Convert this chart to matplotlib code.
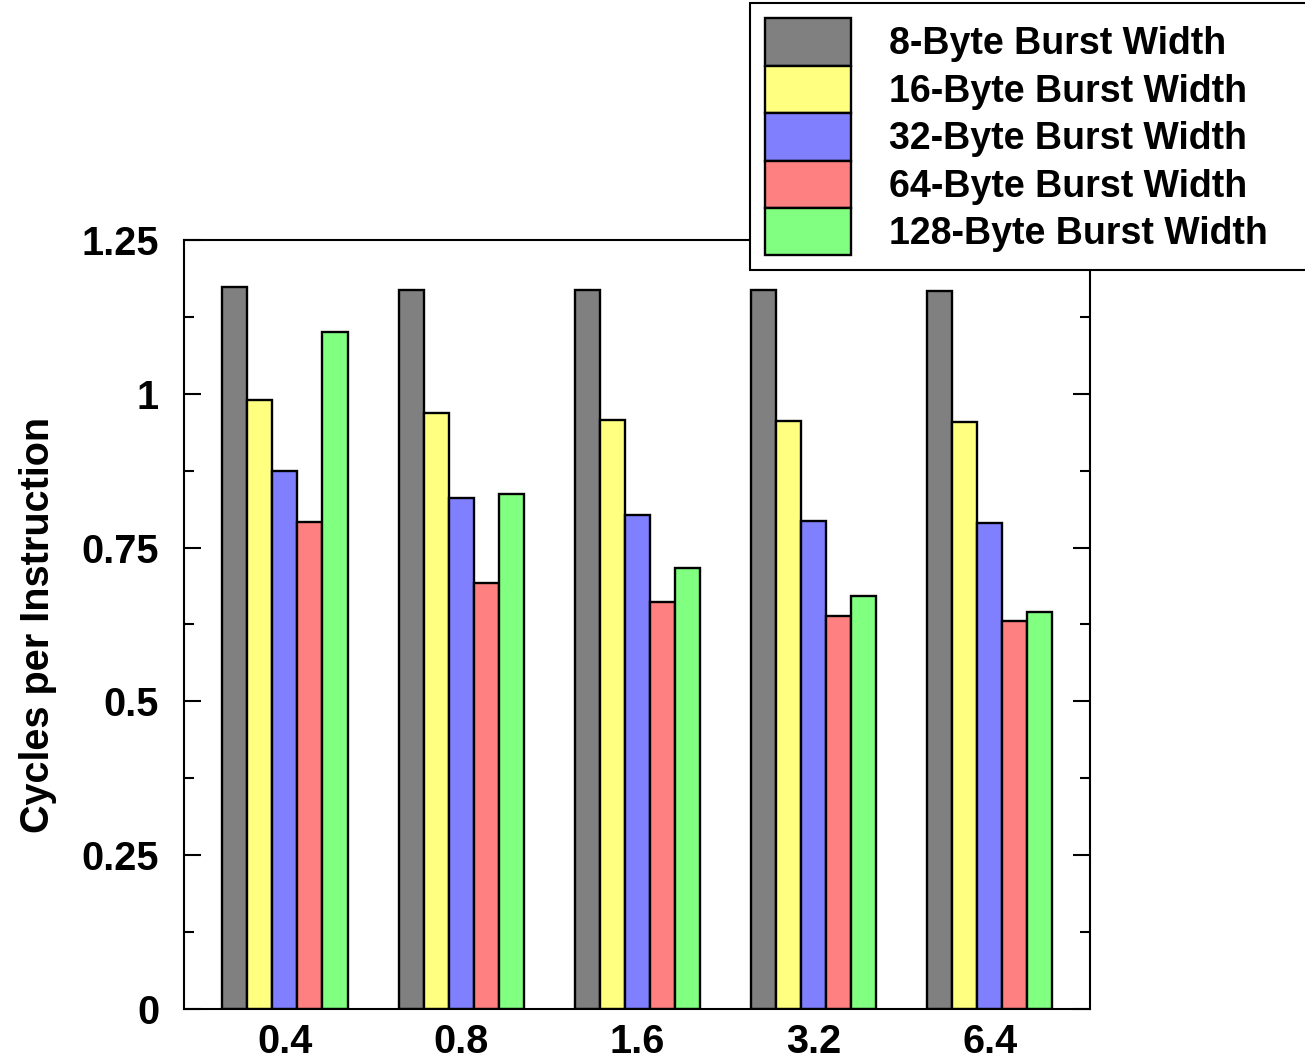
import matplotlib
matplotlib.use("Agg")
import matplotlib.pyplot as plt
import numpy as np
from matplotlib.ticker import MultipleLocator, FuncFormatter
from matplotlib.patches import Rectangle

categories = ["0.4", "0.8", "1.6", "3.2", "6.4"]
series_names = ["8-Byte Burst Width", "16-Byte Burst Width", "32-Byte Burst Width",
                "64-Byte Burst Width", "128-Byte Burst Width"]
b8 = [1.174, 1.169, 1.169, 1.168, 1.167]
b16 = [0.990, 0.969, 0.958, 0.956, 0.954]
b32 = [0.874, 0.831, 0.803, 0.793, 0.790]
b64 = [0.792, 0.693, 0.662, 0.639, 0.630]
b128 = [1.101, 0.837, 0.717, 0.672, 0.646]
colors = ["#808080", "#ffff80", "#8080ff", "#ff8080", "#80ff80"]

plt.rcParams['font.family'] = ['Liberation Sans', 'DejaVu Sans']
plt.rcParams['font.weight'] = 'bold'

fig = plt.figure(figsize=(13.05, 10.6), dpi=100)
ax = fig.add_axes([0.141, 0.0481, 0.694, 0.7255])

x = np.arange(len(categories))
w = 0.142
data = [b8, b16, b32, b64, b128]
for i, (vals, c, name) in enumerate(zip(data, colors, series_names)):
    ax.bar(x + (i - 2) * w, vals, w, color=c, edgecolor='black', linewidth=1.7, label=name)

ax.set_xlim(-0.573, 4.567)
ax.set_ylim(0, 1.25)
ax.set_xticks(x)
ax.set_xticklabels(categories)
ax.yaxis.set_major_locator(MultipleLocator(0.25))
ax.yaxis.set_minor_locator(MultipleLocator(0.125))
ax.yaxis.set_major_formatter(FuncFormatter(lambda v, p: f"{v:g}"))
ax.tick_params(axis='y', which='major', direction='in', length=12, width=1.5,
               left=True, right=True, labelsize=28.5, pad=18)
ax.tick_params(axis='y', which='minor', direction='in', length=7, width=1.5,
               left=True, right=True)
ax.tick_params(axis='x', which='both', length=0, labelsize=28.5, pad=10)
for lab in ax.get_xticklabels() + ax.get_yticklabels():
    lab.set_fontweight('bold')
for s in ax.spines.values():
    s.set_linewidth(1.5)

ax.set_ylabel("Cycles per Instruction", fontsize=28.5, fontweight='bold', labelpad=18)

leg = fig.legend(loc='upper left', bbox_to_anchor=(0.5747, 0.997),
                 bbox_transform=fig.transFigure, fontsize=27, frameon=False,
                 labelspacing=0.0,
                 handlelength=2.3, handleheight=1.57, handletextpad=1.0,
                 borderpad=0.4, borderaxespad=0)
for t in leg.get_texts():
    t.set_fontweight('bold')

fig.canvas.draw()
bb = leg.get_window_extent().transformed(fig.transFigure.inverted())
frame = Rectangle((bb.x0, bb.y0), 1.05 - bb.x0, bb.y1 - bb.y0,
                  transform=fig.transFigure, facecolor='white', edgecolor='black',
                  linewidth=1.5, zorder=4, clip_on=False)
fig.add_artist(frame)
leg.set_zorder(5)

fig.savefig("out.png", dpi=100)
